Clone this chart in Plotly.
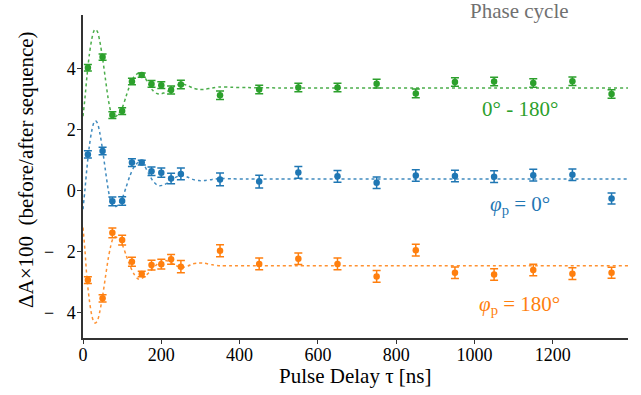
import plotly.graph_objects as go

# ---- data ----
delay = [12.5, 50, 75, 100, 125, 150, 175, 200, 225, 250, 350, 450, 550,
         650, 750, 850, 950, 1050, 1150, 1250, 1350]

green = [4.04, 4.39, 2.49, 2.62, 3.59, 3.80, 3.51, 3.47, 3.31, 3.49, 3.14,
         3.33, 3.39, 3.39, 3.52, 3.20, 3.57, 3.59, 3.54, 3.60, 3.18]
green_err = [0.11, 0.10, 0.11, 0.11, 0.11, 0.07, 0.11, 0.11, 0.13, 0.14, 0.14,
             0.14, 0.14, 0.14, 0.14, 0.14, 0.14, 0.14, 0.14, 0.14, 0.14]

blue = [1.20, 1.31, -0.34, -0.33, 0.93, 0.93, 0.65, 0.60, 0.41, 0.56, 0.38,
        0.31, 0.61, 0.48, 0.27, 0.51, 0.49, 0.47, 0.52, 0.53, -0.25]
blue_err = [0.12, 0.12, 0.14, 0.14, 0.13, 0.08, 0.14, 0.15, 0.17, 0.19, 0.21,
            0.21, 0.19, 0.19, 0.19, 0.19, 0.19, 0.19, 0.19, 0.19, 0.18]

orange = [-2.92, -3.52, -1.37, -1.61, -2.32, -2.72, -2.43, -2.40, -2.24, -2.48,
          -1.96, -2.39, -2.22, -2.39, -2.80, -1.94, -2.68, -2.74, -2.59, -2.71, -2.68]
orange_err = [0.11, 0.12, 0.16, 0.16, 0.15, 0.09, 0.16, 0.16, 0.16, 0.20, 0.20,
              0.19, 0.19, 0.19, 0.19, 0.19, 0.19, 0.19, 0.19, 0.19, 0.18]

# fit curves
fit_delay = [0, 5, 10, 16, 22, 28, 32, 37, 43, 50, 57, 64, 70, 76, 82, 90, 100,
             110, 120, 130, 140, 148, 158, 168, 178, 188, 196, 206, 218, 230,
             242, 255, 268, 280, 295, 310, 330, 350, 380, 420, 500, 1392]
green_fit = [2.45, 3.05, 3.75, 4.45, 4.95, 5.25, 5.30, 5.22, 4.90, 4.35, 3.70,
             3.05, 2.65, 2.45, 2.43, 2.52, 2.72, 3.10, 3.48, 3.74, 3.85, 3.85,
             3.72, 3.50, 3.30, 3.20, 3.18, 3.21, 3.28, 3.40, 3.48, 3.50, 3.45,
             3.38, 3.33, 3.33, 3.38, 3.41, 3.40, 3.39, 3.38, 3.38]
blue_fit = [-0.60, 0.05, 0.75, 1.45, 1.95, 2.25, 2.30, 2.22, 1.90, 1.35, 0.70,
            0.08, -0.30, -0.48, -0.52, -0.45, -0.25, 0.12, 0.50, 0.78, 0.93,
            0.94, 0.80, 0.56, 0.34, 0.21, 0.17, 0.20, 0.28, 0.40, 0.48, 0.50,
            0.45, 0.38, 0.34, 0.34, 0.38, 0.41, 0.40, 0.39, 0.39, 0.39]
orange_fit = [-1.20, -1.95, -2.85, -3.55, -4.05, -4.30, -4.33, -4.25, -3.95,
              -3.45, -2.85, -2.25, -1.85, -1.58, -1.50, -1.55, -1.75, -2.10,
              -2.45, -2.72, -2.88, -2.88, -2.80, -2.68, -2.55, -2.42, -2.33,
              -2.28, -2.30, -2.38, -2.47, -2.50, -2.46, -2.39, -2.36, -2.37,
              -2.42, -2.45, -2.45, -2.45, -2.45, -2.45]

xticks = [0, 200, 400, 600, 800, 1000, 1200]
yticks = [-4, -2, 0, 2, 4]
yticklabels = ["\u2212\u00a0\u00a0\u20094", "\u2212\u00a0\u00a0\u20092", "0", "2", "4"]

C_BLUE, C_ORANGE, C_GREEN = "#1f77b4", "#ff7f0e", "#2ca02c"
FONT = "Liberation Serif"

fig = go.Figure()
for fy, c in [(green_fit, C_GREEN), (blue_fit, C_BLUE), (orange_fit, C_ORANGE)]:
    fig.add_trace(go.Scatter(x=fit_delay, y=fy, mode="lines",
                             line=dict(color=c, width=1.5, dash="dot", shape="spline", smoothing=0.8),
                             opacity=0.85, hoverinfo="skip", showlegend=False))
for yy, ee, c in [(green, green_err, C_GREEN), (blue, blue_err, C_BLUE), (orange, orange_err, C_ORANGE)]:
    fig.add_trace(go.Scatter(x=delay, y=yy, mode="markers",
                             marker=dict(color=c, size=6.5),
                             error_y=dict(type="data", array=ee, color=c, thickness=1.5, width=4),
                             showlegend=False))

fig.add_annotation(x=1115, y=1.012, xref="x", yref="paper", text="Phase cycle",
                   showarrow=False, xanchor="center", yanchor="middle",
                   font=dict(family=FONT, size=21, color="#707070"))
ann = [
    dict(text="0° - 180°", x=1115, y=2.68, color=C_GREEN),
    dict(text="<i>φ</i><sub>p</sub> = 0°", x=1115, y=-0.47, color=C_BLUE),
    dict(text="<i>φ</i><sub>p</sub> = 180°", x=1115, y=-3.75, color=C_ORANGE),
]
for a in ann:
    fig.add_annotation(x=a["x"], y=a["y"], xref="x", yref="y", text=a["text"],
                       showarrow=False, xanchor="center", yanchor="middle",
                       font=dict(family=FONT, size=21, color=a["color"]))

fig.add_annotation(x=0, y=0.52, xref="paper", yref="paper", xshift=-57,
                   text="ΔA×100 \u00a0(before/after sequence)", textangle=-90,
                   showarrow=False, xanchor="center", yanchor="middle",
                   font=dict(family=FONT, size=21, color="black"))
fig.add_annotation(x=0.5, y=0, xref="paper", yref="paper", yshift=-38,
                   text="Pulse Delay τ [ns]", showarrow=False,
                   xanchor="center", yanchor="middle",
                   font=dict(family=FONT, size=21, color="black"))

axis_common = dict(showgrid=False, zeroline=False, showline=True, linecolor="#333333",
                   linewidth=1.5, ticks="outside", ticklen=4, tickwidth=1.2,
                   tickcolor="#333333", tickfont=dict(family=FONT, size=18, color="black"))
fig.update_xaxes(range=[0, 1392], tickvals=xticks, ticklabelstandoff=-4, **axis_common)
fig.update_yaxes(range=[-4.82, 5.77], tickvals=yticks, ticktext=yticklabels,
                 ticklabelstandoff=-2, **axis_common)

fig.update_layout(width=641, height=395, margin=dict(l=83, r=13, t=15, b=57),
                  plot_bgcolor="white", paper_bgcolor="white",
                  font=dict(family=FONT))

fig.write_html("out.html")
